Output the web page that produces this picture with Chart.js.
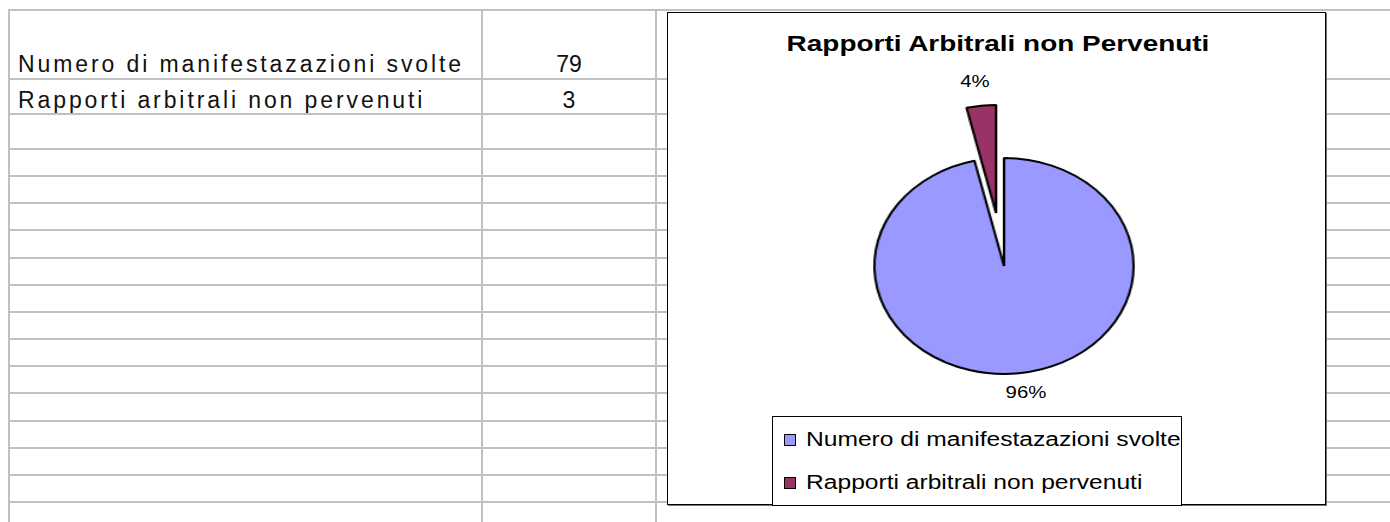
<!DOCTYPE html>
<html>
<head>
<meta charset="utf-8">
<script src="https://cdn.jsdelivr.net/npm/chart.js@4.4.1/dist/chart.umd.min.js"></script>
<style>
  html, body { margin:0; padding:0; background:#fff; width:1390px; height:522px; overflow:hidden; position:relative; }
  .h { position:absolute; height:2px; background:#c0c0c0; }
  .v { position:absolute; width:2px; background:#c0c0c0; }
  .cell { position:absolute; font-family:"Liberation Sans", Arial, sans-serif; font-size:23px; color:#111; white-space:nowrap; line-height:24px; }
  #box { position:absolute; left:667px; top:12px; width:657px; height:491px; border:1.5px solid #000; background:#fff; box-shadow:1px 1px 0 #777; }
  .txt { position:absolute; font-family:"Liberation Sans", Arial, sans-serif; color:#000; white-space:nowrap; }
  #title { font-weight:bold; font-size:22px; transform:translateX(-50%) scaleX(1.27); }
  .pct { font-size:17px; transform:translateX(-50%) scaleX(1.2); }
  .pieWrap { position:absolute; width:300px; height:300px; transform:scaleX(1.2); }
  #legend { position:absolute; left:772px; top:416px; width:408px; height:88px; border:1px solid #000; background:#fff; }
  .sw { position:absolute; width:10px; height:10px; border:1.5px solid #000; }
  .lt { font-size:20px; transform-origin:0 50%; transform:scaleX(1.23); }
</style>
</head>
<body>
<div id="grid"></div>
<div id="tableText"></div>
<div id="box"></div>
<script>
// ---- data ----
const categories = ['Numero di manifestazazioni svolte', 'Rapporti arbitrali non pervenuti'];
const values = [79, 3];
const sliceColors = ['#9999FF', '#993366'];
const explodeDistance = [0, 53];
const chartTitle = 'Rapporti Arbitrali non Pervenuti';

const body = document.body;

// ---- spreadsheet grid (layout) ----
const grid = document.getElementById('grid');
const hLines = [9, 78, 113, 148];
for (let i = 1; i <= 13; i++) hLines.push(Math.round(148 + 27.15 * i));
hLines.forEach(y => {
  const d = document.createElement('div'); d.className = 'h';
  d.style.left = '8px'; d.style.top = y + 'px'; d.style.width = (1390 - 8) + 'px';
  grid.appendChild(d);
});
[8, 481, 655].forEach(x => {
  const d = document.createElement('div'); d.className = 'v';
  d.style.left = x + 'px'; d.style.top = '9px'; d.style.height = (522 - 9) + 'px';
  grid.appendChild(d);
});

// ---- table cells ----
const tt = document.getElementById('tableText');
const rowCenters = [64, 100];
categories.forEach((c, i) => {
  const a = document.createElement('div'); a.className = 'cell';
  a.textContent = c; a.style.left = '18px'; a.style.top = (rowCenters[i] - 12) + 'px';
  a.style.letterSpacing = '2.9px';
  tt.appendChild(a);
  const b = document.createElement('div'); b.className = 'cell';
  b.textContent = String(values[i]); b.style.left = '482px'; b.style.width = '174px';
  b.style.textAlign = 'center'; b.style.top = (rowCenters[i] - 12) + 'px';
  tt.appendChild(b);
});

// ---- chart frame ----
const t = document.createElement('div');
t.className = 'txt'; t.id = 'title'; t.textContent = chartTitle;
t.style.left = '998px'; t.style.top = '31px';
body.appendChild(t);

const total = values.reduce((a, b) => a + b, 0);
const pctPos = [[1026, 383], [975, 72]];
values.forEach((v, i) => {
  const p = document.createElement('div');
  p.className = 'txt pct';
  p.textContent = Math.round(v / total * 100) + '%';
  p.style.left = pctPos[i][0] + 'px'; p.style.top = pctPos[i][1] + 'px';
  body.appendChild(p);
});

const lg = document.createElement('div'); lg.id = 'legend';
body.appendChild(lg);
categories.forEach((c, i) => {
  const sw = document.createElement('div'); sw.className = 'sw';
  sw.style.background = sliceColors[i];
  sw.style.left = (783 - 772) + 'px'; sw.style.top = (433 + 43 * i - 416) + 'px';
  lg.appendChild(sw);
  const l = document.createElement('div'); l.className = 'txt lt';
  l.textContent = c;
  l.style.left = (805 - 772) + 'px'; l.style.top = (427 + 43 * i - 416) + 'px';
  lg.appendChild(l);
});

// ---- pie: one Chart.js layer per slice so an exploded slice keeps its radius ----
const cx = 1003.5, cy = 265.5, R = 108, SX = 1.2;
let acc = 0;
values.forEach((v, k) => {
  const mid = (acc + v / 2) / total * 2 * Math.PI; // clockwise from top
  acc += v;
  const dx = Math.sin(mid) * explodeDistance[k] * SX;
  const dy = -Math.cos(mid) * explodeDistance[k];
  const wrap = document.createElement('div'); wrap.className = 'pieWrap';
  wrap.style.left = (cx - 150 + dx) + 'px';
  wrap.style.top = (cy - 150 + dy) + 'px';
  const cv = document.createElement('canvas'); cv.width = 300; cv.height = 300;
  wrap.appendChild(cv);
  body.insertBefore(wrap, lg);
  new Chart(cv, {
    type: 'pie',
    data: {
      labels: categories,
      datasets: [{
        data: values,
        backgroundColor: sliceColors.map((c, i) => i === k ? c : 'rgba(0,0,0,0)'),
        borderColor: sliceColors.map((c, i) => i === k ? '#000' : 'rgba(0,0,0,0)'),
        borderWidth: 2
      }]
    },
    options: {
      responsive: false,
      animation: false,
      events: [],
      radius: R,
      rotation: 0,
      layout: { padding: 0 },
      plugins: { legend: { display: false }, title: { display: false }, tooltip: { enabled: false } }
    }
  });
});
</script>
</body>
</html>
